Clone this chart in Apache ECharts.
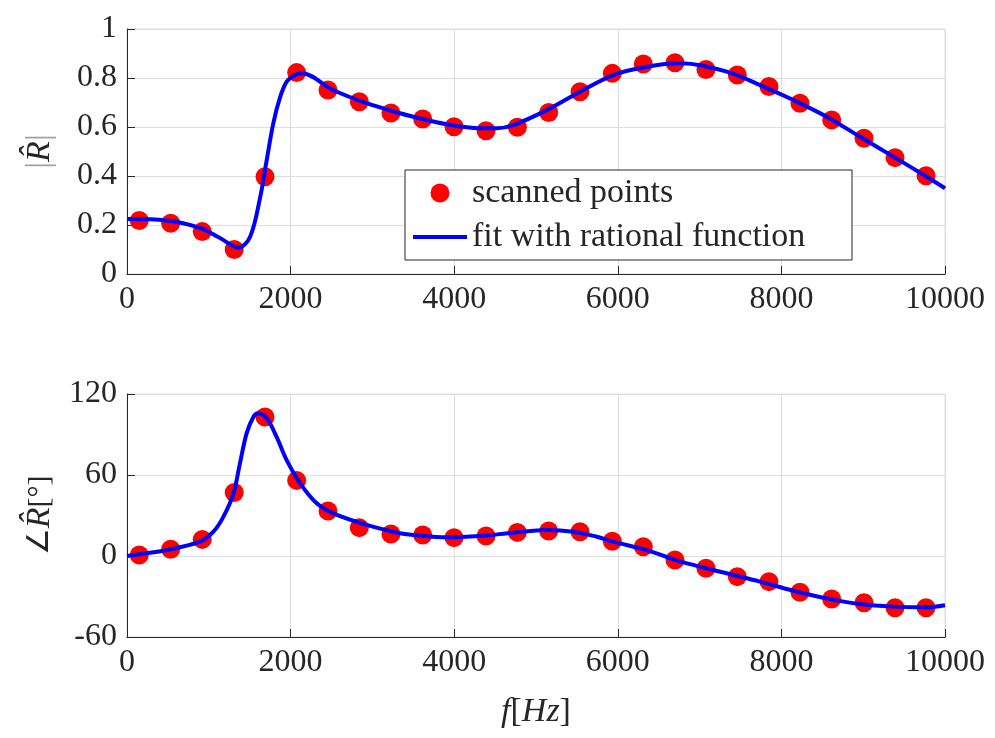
<!DOCTYPE html>
<html><head><meta charset="utf-8">
<script src="https://cdn.jsdelivr.net/npm/echarts@6/dist/echarts.min.js"></script>
<style>html,body{margin:0;padding:0;background:#fff}#c{width:995px;height:738px}</style>
</head><body><div id="c"></div>
<script>
// ---- data ----
const scanFreq  = [150, 534, 920, 1311, 1687, 2074, 2457, 2840, 3227, 3615, 3998, 4389, 4772, 5155, 5538, 5933, 6312, 6699, 7078, 7461, 7848, 8227, 8615, 9010, 9389, 9768];
const scanMag   = [0.218, 0.207, 0.173, 0.100, 0.397, 0.822, 0.751, 0.703, 0.657, 0.633, 0.601, 0.585, 0.599, 0.659, 0.744, 0.819, 0.857, 0.862, 0.835, 0.812, 0.765, 0.697, 0.629, 0.554, 0.475, 0.401];
const scanPhase = [0.7, 5, 12.3, 47, 103, 56, 33.3, 21, 16.3, 15.6, 13.6, 14.8, 17.5, 18.5, 18, 10.9, 6.9, -3, -9.1, -15.3, -19, -26.9, -31.9, -34.6, -38.3, -38.3];

const fitMagFreq = [0, 485, 892, 1137, 1361, 1504, 1626, 1708, 1789, 1870, 1952, 2033, 2135, 2519, 2930, 3337, 3500, 3908, 4315, 4519, 4723, 5131, 5538, 5945, 6353, 6760, 7331, 7738, 8146, 8553, 8961, 9369, 9776, 10000];
const fitMag     = [0.224, 0.218, 0.188, 0.147, 0.108, 0.151, 0.31, 0.465, 0.616, 0.72, 0.785, 0.808, 0.819, 0.751, 0.697, 0.656, 0.642, 0.611, 0.595, 0.595, 0.608, 0.669, 0.744, 0.812, 0.846, 0.860, 0.826, 0.771, 0.710, 0.642, 0.560, 0.479, 0.397, 0.35];

const fitPhaseFreq = [0, 485, 892, 1056, 1178, 1300, 1382, 1463, 1545, 1600, 1708, 1830, 1952, 2115, 2319, 2523, 2930, 3337, 3500, 3908, 4315, 4723, 5131, 5456, 5742, 5945, 6353, 6760, 7331, 7738, 8146, 8553, 8961, 9369, 9776, 10000];
const fitPhase     = [0, 4.4, 10.6, 18, 29, 46, 69, 91, 103, 105.7, 102, 88, 71, 54, 39, 31.6, 23, 16.8, 15.6, 13.8, 14.8, 17.3, 19.3, 18, 14.3, 10.6, 4.4, -4, -12.8, -19, -25.7, -31.4, -35.6, -37.5, -38, -36.5];

const xTicks     = [0, 2000, 4000, 6000, 8000, 10000];
const magTicks   = [0, 0.2, 0.4, 0.6, 0.8, 1];
const phaseTicks = [-60, 0, 60, 120];

const seriesNames = ['scanned points', 'fit with rational function'];

// ---- styles ----
const FONT = 'Liberation Serif';
const TXT = '#262626';
const GRIDC = '#dedede';

function zip(a, b) { return a.map((v, i) => [v, b[i]]); }
function plain(v) { return String(Math.round(v * 1000) / 1000); }

function xAxis(gi, showName) {
  return {
    type: 'value', gridIndex: gi,
    min: xTicks[0], max: xTicks[xTicks.length - 1], interval: xTicks[1] - xTicks[0],
    axisLine: { show: true, onZero: false, lineStyle: { color: TXT, width: 1 } },
    axisTick: { show: true, inside: true, length: 8, lineStyle: { color: TXT } },
    axisLabel: { color: TXT, fontFamily: FONT, fontSize: 32, margin: 10, formatter: plain },
    splitLine: { show: true, lineStyle: { color: GRIDC, width: 1 } },
    name: showName ? '{i|f}[{i|Hz}]' : '',
    nameLocation: 'middle', nameGap: 58,
    nameTextStyle: { color: TXT, fontFamily: FONT, fontSize: 34,
      rich: { i: { fontStyle: 'italic', fontFamily: FONT, fontSize: 34, color: TXT } } }
  };
}
function yAxis(gi, ticks, name) {
  return {
    type: 'value', gridIndex: gi,
    min: ticks[0], max: ticks[ticks.length - 1], interval: ticks[1] - ticks[0],
    axisLine: { show: true, onZero: false, lineStyle: { color: TXT, width: 1 } },
    axisTick: { show: true, inside: true, length: 8, lineStyle: { color: TXT } },
    axisLabel: { color: TXT, fontFamily: FONT, fontSize: 32, margin: 10, formatter: plain },
    splitLine: { show: true, lineStyle: { color: GRIDC, width: 1 } },
    name: name, nameLocation: 'middle', nameGap: 70,
    nameTextStyle: { color: TXT, fontFamily: FONT, fontSize: 34,
      rich: {
        g: { color: '#a0a0a0', fontFamily: FONT, fontSize: 34 },
        i: { fontStyle: 'italic', fontFamily: FONT, fontSize: 34, color: TXT },
        n: { fontFamily: FONT, fontSize: 30, color: TXT }
      } }
  };
}

const chart = echarts.init(document.getElementById('c'), null, { renderer: 'canvas' });
chart.setOption({
  animation: false,
  backgroundColor: '#ffffff',
  grid: [
    { left: 127, top: 29, width: 818, height: 245, show: true, borderColor: GRIDC, borderWidth: 1, backgroundColor: 'transparent' },
    { left: 127, top: 394, width: 818, height: 243, show: true, borderColor: GRIDC, borderWidth: 1, backgroundColor: 'transparent' }
  ],
  xAxis: [xAxis(0, false), xAxis(1, true)],
  yAxis: [
    yAxis(0, magTicks, '{g||}{i|R̂}{g||}'),
    yAxis(1, phaseTicks, '{n|∠}{i|R̂}{n|[°]}')
  ],
  legend: {
    left: 405, top: 170, orient: 'vertical',
    backgroundColor: '#ffffff', borderColor: TXT, borderWidth: 1,
    padding: [6, 8, 6, 8], itemGap: 10, itemWidth: 54, itemHeight: 19,
    textStyle: { color: TXT, fontFamily: FONT, fontSize: 34, lineHeight: 34, width: 372 },
    data: [
      { name: seriesNames[0], icon: 'circle' },
      { name: seriesNames[1], icon: 'path://M0,0H54V4H0Z', itemStyle: { color: '#0000ff', borderWidth: 0 } }
    ]
  },
  series: [
    { name: seriesNames[0], type: 'scatter', xAxisIndex: 0, yAxisIndex: 0, data: zip(scanFreq, scanMag),
      symbol: 'circle', symbolSize: 19, itemStyle: { color: '#ff0000', opacity: 1 }, z: 2 },
    { name: seriesNames[1], type: 'line', xAxisIndex: 0, yAxisIndex: 0, data: zip(fitMagFreq, fitMag),
      smooth: 0.35, showSymbol: false, symbol: 'none', lineStyle: { color: '#0000ff', width: 4 }, itemStyle: { color: '#0000ff' }, z: 3 },
    { name: seriesNames[0], type: 'scatter', xAxisIndex: 1, yAxisIndex: 1, data: zip(scanFreq, scanPhase),
      symbol: 'circle', symbolSize: 19, itemStyle: { color: '#ff0000', opacity: 1 }, z: 2 },
    { name: seriesNames[1], type: 'line', xAxisIndex: 1, yAxisIndex: 1, data: zip(fitPhaseFreq, fitPhase),
      smooth: 0.35, showSymbol: false, symbol: 'none', lineStyle: { color: '#0000ff', width: 4 }, itemStyle: { color: '#0000ff' }, z: 3 }
  ]
});
</script>
</body></html>
